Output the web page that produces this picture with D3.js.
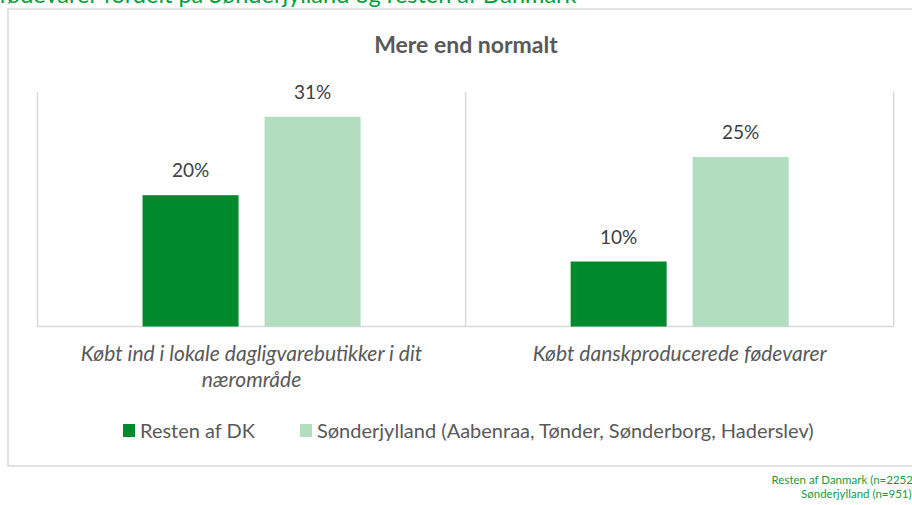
<!DOCTYPE html>
<html>
<head>
<meta charset="utf-8">
<script src="https://cdn.jsdelivr.net/npm/d3@7"></script>
<style>
  body { margin: 0; background: #fff; }
  svg { display: block; font-family: Lato, "Open Sans", sans-serif; }
</style>
</head>
<body>
<div id="chart"></div>
<script>
// data
const categories = [
  ["Købt ind i lokale dagligvarebutikker i dit", "nærområde"],
  ["Købt danskproducerede fødevarer"]
];
const seriesNames = ["Resten af DK", "Sønderjylland (Aabenraa, Tønder, Sønderborg, Haderslev)"];
const restenAfDK = [0.196, 0.097];
const soenderjylland = [0.313, 0.253];
const footnotes = ["Resten af Danmark (n=2252)", "Sønderjylland (n=951)"];

const colors = ["#008A2E", "#B2DDBF"];
const W = 912, H = 505;
const plot = { left: 37.5, right: 893.7, top: 92, bottom: 326.5 };

const svg = d3.select("#chart").append("svg")
    .attr("width", W)
    .attr("height", H);

// heading (cut off at top in the original)
svg.append("text")
    .attr("x", -1)
    .attr("y", 3)
    .style("font-size", "23.5px")
    .style("fill", "#00A03A")
    .text("fødevarer fordelt på Sønderjylland og resten af Danmark");

// chart frame
svg.append("rect")
    .attr("x", 8)
    .attr("y", 9)
    .attr("width", 930)
    .attr("height", 457)
    .style("fill", "none")
    .style("stroke", "#D9D9D9")
    .style("stroke-width", 1.5);

svg.append("text")
    .attr("x", 466)
    .attr("y", 52.5)
    .attr("text-anchor", "middle")
    .style("font-size", "23px")
    .style("font-weight", "bold")
    .style("fill", "#595959")
    .text("Mere end normalt");

const x0 = d3.scaleBand()
    .domain(d3.range(categories.length))
    .range([plot.left, plot.right]);

const x1 = d3.scaleBand()
    .domain(d3.range(seriesNames.length))
    .range([0, x0.bandwidth()])
    .paddingInner(0.213)
    .paddingOuter(0.861);

const y = d3.scaleLinear()
    .domain([0, 0.35])
    .range([plot.bottom, plot.top]);

// category separators + baseline
const bounds = [plot.left, ...categories.map((c, i) => x0(i) + x0.bandwidth())];
svg.selectAll(".sep")
    .data(bounds)
    .enter().append("line")
    .attr("x1", d => d).attr("x2", d => d)
    .attr("y1", plot.top).attr("y2", plot.bottom)
    .style("stroke", "#D9D9D9")
    .style("stroke-width", 1.5);

svg.append("line")
    .attr("x1", plot.left).attr("x2", plot.right)
    .attr("y1", plot.bottom).attr("y2", plot.bottom)
    .style("stroke", "#D9D9D9")
    .style("stroke-width", 1.5);

const seriesData = [restenAfDK, soenderjylland];
const groups = svg.selectAll(".grp")
    .data(categories)
    .enter().append("g")
    .attr("transform", (d, i) => `translate(${x0(i)},0)`);

groups.each(function(c, ci) {
    const grp = d3.select(this);
    const vals = seriesData.map((s, si) => ({ si, v: s[ci] }));

    grp.selectAll("rect")
        .data(vals)
        .enter().append("rect")
        .attr("x", d => x1(d.si))
        .attr("y", d => y(d.v))
        .attr("width", x1.bandwidth())
        .attr("height", d => y(0) - y(d.v))
        .style("fill", d => colors[d.si]);

    grp.selectAll(".lbl")
        .data(vals)
        .enter().append("text")
        .attr("x", d => x1(d.si) + x1.bandwidth() / 2)
        .attr("y", d => y(d.v) - 18)
        .attr("text-anchor", "middle")
        .style("font-size", "19px")
        .style("fill", "#404040")
        .text(d => Math.round(d.v * 100) + "%");

    grp.append("text")
        .attr("text-anchor", "middle")
        .style("font-size", "21px")
        .style("font-style", "italic")
        .style("fill", "#595959")
        .selectAll("tspan")
        .data(c)
        .enter().append("tspan")
        .attr("x", x0.bandwidth() / 2)
        .attr("y", (d, i) => 361 + i * 26)
        .text(d => d);
});

// legend
const legendX = [123, 300];
const legend = svg.selectAll(".leg")
    .data(seriesNames)
    .enter().append("g")
    .attr("transform", (d, i) => `translate(${legendX[i]},424)`);

legend.append("rect")
    .attr("width", 12)
    .attr("height", 13)
    .style("fill", (d, i) => colors[i]);

legend.append("text")
    .attr("x", 17)
    .attr("y", 13.5)
    .style("font-size", "20px")
    .style("fill", "#595959")
    .text(d => d);

// footnotes (run off the right edge like in the original)
svg.selectAll(".note")
    .data(footnotes)
    .enter().append("text")
    .attr("x", (d, i) => [771.5, 801][i])
    .attr("y", (d, i) => 484 + i * 14)
    .style("font-size", "11.5px")
    .style("fill", "#1E9A3C")
    .text(d => d);
</script>
</body>
</html>
